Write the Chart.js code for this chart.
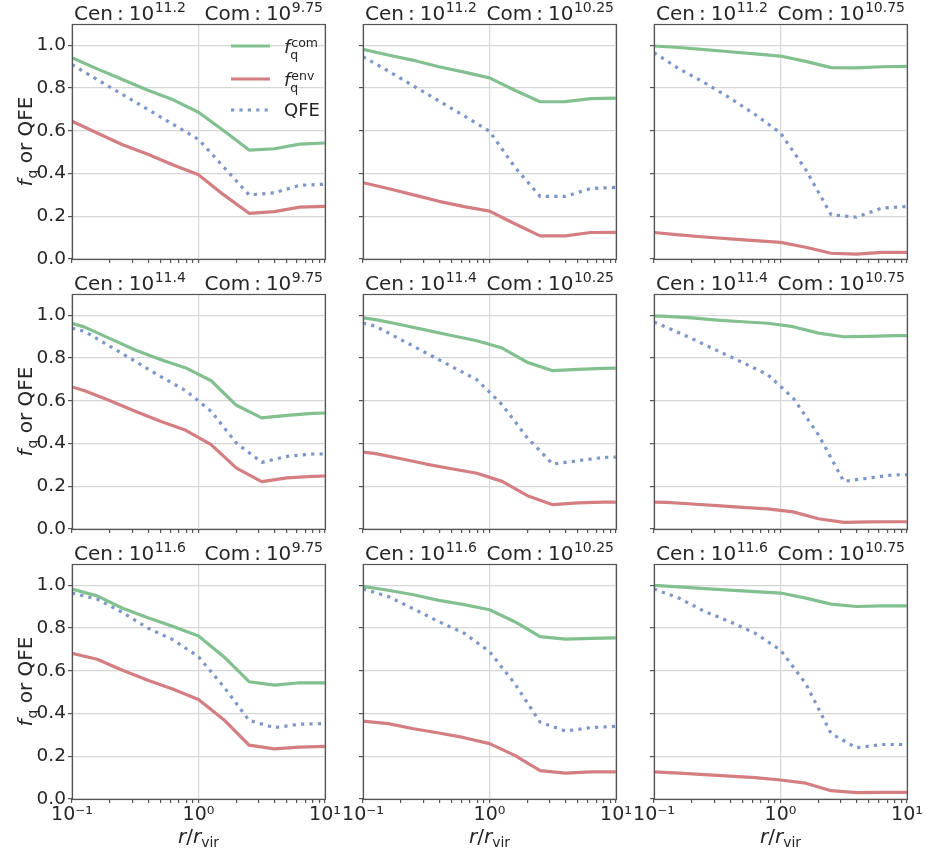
<!DOCTYPE html>
<html>
<head>
<meta charset="utf-8">
<script src="https://cdn.jsdelivr.net/npm/chart.js@4.4.1/dist/chart.umd.min.js"></script>
<style>
    html, body { margin: 0; padding: 0; background: #fff; width: 925px; height: 851px; overflow: hidden; position: relative; }
    canvas { position: absolute; }
</style>
</head>
<body>
<script>
(function () {
    "use strict";

    // radial bins (r / r_vir); row 2 uses a shifted set of bins
    const radiusA = [0.1, 0.158, 0.251, 0.398, 0.631, 1.0, 1.585, 2.512, 3.981, 6.31, 10];
    const radiusB = [0.1, 0.126, 0.2, 0.316, 0.5, 0.794, 1.259, 1.995, 3.162, 5.012, 7.943, 10];

    const cenLabels = ["11.2", "11.4", "11.6"];
    const comLabels = ["9.75", "10.25", "10.75"];

    // Cen 10^11.2, one list per companion mass
    const fqCom11_2 = [
        [0.942, 0.890, 0.840, 0.790, 0.745, 0.687, 0.600, 0.510, 0.516, 0.538, 0.543],
        [0.981, 0.955, 0.930, 0.900, 0.875, 0.848, 0.790, 0.736, 0.737, 0.751, 0.753],
        [0.997, 0.990, 0.980, 0.970, 0.960, 0.950, 0.925, 0.896, 0.895, 0.900, 0.902],
    ];
    const fqEnv11_2 = [
        [0.645, 0.590, 0.535, 0.490, 0.440, 0.394, 0.300, 0.214, 0.222, 0.243, 0.246],
        [0.357, 0.330, 0.300, 0.270, 0.245, 0.224, 0.165, 0.108, 0.108, 0.124, 0.125],
        [0.124, 0.113, 0.103, 0.094, 0.086, 0.078, 0.055, 0.027, 0.023, 0.031, 0.031],
    ];
    const qfe11_2 = [
        [0.910, 0.840, 0.770, 0.700, 0.630, 0.560, 0.430, 0.300, 0.310, 0.345, 0.350],
        [0.947, 0.880, 0.810, 0.740, 0.670, 0.598, 0.430, 0.293, 0.293, 0.330, 0.335],
        [0.966, 0.890, 0.825, 0.754, 0.676, 0.590, 0.418, 0.207, 0.196, 0.238, 0.246],
    ];

    // Cen 10^11.4
    const fqCom11_4 = [
        [0.963, 0.945, 0.891, 0.838, 0.793, 0.754, 0.694, 0.579, 0.520, 0.532, 0.541, 0.543],
        [0.988, 0.980, 0.956, 0.931, 0.906, 0.881, 0.847, 0.780, 0.741, 0.747, 0.752, 0.753],
        [0.998, 0.995, 0.988, 0.978, 0.970, 0.963, 0.947, 0.917, 0.900, 0.902, 0.905, 0.905],
    ];
    const fqEnv11_4 = [
        [0.665, 0.647, 0.600, 0.551, 0.504, 0.462, 0.395, 0.285, 0.222, 0.239, 0.246, 0.248],
        [0.360, 0.353, 0.329, 0.304, 0.282, 0.261, 0.223, 0.156, 0.114, 0.122, 0.126, 0.126],
        [0.126, 0.125, 0.117, 0.109, 0.101, 0.094, 0.080, 0.048, 0.031, 0.033, 0.034, 0.034],
    ];
    const qfe11_4 = [
        [0.940, 0.925, 0.855, 0.785, 0.714, 0.647, 0.551, 0.402, 0.312, 0.340, 0.351, 0.351],
        [0.964, 0.949, 0.886, 0.824, 0.761, 0.699, 0.582, 0.426, 0.304, 0.320, 0.335, 0.337],
        [0.969, 0.944, 0.891, 0.835, 0.780, 0.722, 0.613, 0.441, 0.223, 0.239, 0.254, 0.254],
    ];

    // Cen 10^11.6
    const fqCom11_6 = [
        [0.983, 0.951, 0.893, 0.848, 0.807, 0.763, 0.666, 0.549, 0.533, 0.544, 0.544],
        [0.995, 0.977, 0.956, 0.930, 0.910, 0.886, 0.830, 0.760, 0.748, 0.752, 0.754],
        [1.000, 0.993, 0.985, 0.978, 0.971, 0.964, 0.940, 0.912, 0.901, 0.904, 0.904],
    ];
    const fqEnv11_6 = [
        [0.682, 0.654, 0.603, 0.556, 0.514, 0.466, 0.371, 0.252, 0.235, 0.243, 0.246],
        [0.365, 0.353, 0.329, 0.309, 0.287, 0.259, 0.204, 0.133, 0.121, 0.127, 0.127],
        [0.127, 0.121, 0.114, 0.107, 0.100, 0.089, 0.074, 0.039, 0.030, 0.031, 0.031],
    ];
    const qfe11_6 = [
        [0.964, 0.936, 0.873, 0.800, 0.745, 0.666, 0.525, 0.368, 0.334, 0.350, 0.353],
        [0.983, 0.948, 0.890, 0.830, 0.776, 0.690, 0.540, 0.360, 0.318, 0.334, 0.340],
        [0.983, 0.940, 0.878, 0.830, 0.776, 0.697, 0.540, 0.306, 0.240, 0.255, 0.255],
    ];

    // axis ticks
    const xMajor = [0.1, 1, 10];
    const xMajorLabels = ["10\u207B\u00B9", "10\u2070", "10\u00B9"];
    const xMinor = [0.2, 0.3, 0.4, 0.5, 0.6, 0.7, 0.8, 0.9, 2, 3, 4, 5, 6, 7, 8, 9];
    const yTicks = [0, 0.2, 0.4, 0.6, 0.8, 1.0];

    const rows = [
        { cen: cenLabels[0], x: radiusA, com: fqCom11_2, env: fqEnv11_2, qfe: qfe11_2 },
        { cen: cenLabels[1], x: radiusB, com: fqCom11_4, env: fqEnv11_4, qfe: qfe11_4 },
        { cen: cenLabels[2], x: radiusA, com: fqCom11_6, env: fqEnv11_6, qfe: qfe11_6 },
    ];

    const FONT = "'DejaVu Sans'";
    const GREEN = "rgb(130,192,144)";
    const RED = "rgb(212,126,130)";
    const BLUE = "rgb(124,151,199)";
    const GRID = "#d6d6d6";
    const SPINE = "#555555";
    const TEXT = "#262626";

    const padL = 72, padT = 24, padR = 30, padB = 52;
    const plotW = 253, plotH = 235;

    // draw a run of text pieces (for sub / superscripts)
    function rich(ctx, x, y, parts, align) {
        let total = 0;
        parts.forEach((p) => {
            ctx.font = p.f;
            p.w = ctx.measureText(p.t).width;
            total += p.w + (p.gap || 0);
        });
        if (align === "right") x -= total;
        if (align === "center") x -= total / 2;
        ctx.textBaseline = "alphabetic";
        ctx.textAlign = "left";
        parts.forEach((p) => {
            ctx.font = p.f;
            ctx.fillText(p.t, x + (p.gap || 0), y + (p.dy || 0));
            x += p.w + (p.gap || 0);
        });
    }

    function toPoints(xs, ys) {
        return xs.map((v, i) => ({ x: v, y: ys[i] }));
    }

    function titleParts(name, exp) {
        const main = "20px " + FONT;
        return [
            { t: name, f: main },
            { t: ":", f: main, gap: 4 },
            { t: "10", f: main, gap: 5 },
            { t: exp, f: "14px " + FONT, dy: -8, gap: 0.5 },
        ];
    }

    const decor = {
        id: "decor",
        afterDatasetsDraw(chart, args, o) {
            const ctx = chart.ctx;
            const a = chart.chartArea;
            ctx.save();

            // spines
            ctx.strokeStyle = SPINE;
            ctx.lineWidth = 1.2;
            ctx.strokeRect(Math.round(a.left) + 0.5, Math.round(a.top) + 0.5,
                Math.round(a.right - a.left), Math.round(a.bottom - a.top));

            ctx.fillStyle = TEXT;

            // titles
            rich(ctx, a.left + 2, a.top - 4, titleParts("Cen", o.cen), "left");
            rich(ctx, a.right - 2, a.top - 4, titleParts("Com", o.com), "right");

            // legend in the first panel
            if (o.legend) {
                const lx = a.right - 94, tx = a.right - 41;
                const ys = [a.top + 22, a.top + 55, a.top + 86];
                ctx.lineWidth = 3.2;
                ctx.lineCap = "butt";
                ctx.strokeStyle = GREEN;
                ctx.beginPath(); ctx.moveTo(lx, ys[0]); ctx.lineTo(lx + 39, ys[0]); ctx.stroke();
                ctx.strokeStyle = RED;
                ctx.beginPath(); ctx.moveTo(lx, ys[1]); ctx.lineTo(lx + 39, ys[1]); ctx.stroke();
                ctx.strokeStyle = BLUE;
                ctx.setLineDash([3.2, 5.2]);
                ctx.beginPath(); ctx.moveTo(lx, ys[2]); ctx.lineTo(lx + 39, ys[2]); ctx.stroke();
                ctx.setLineDash([]);

                const it = "italic 18px " + FONT;
                const sm = "12.5px " + FONT;
                [["com", ys[0]], ["env", ys[1]]].forEach(([s, yy]) => {
                    ctx.font = it;
                    const fw = ctx.measureText("f").width;
                    ctx.fillText("f", tx, yy + 7);
                    ctx.font = sm;
                    ctx.fillText(s, tx + fw + 1, yy + 1);
                    ctx.fillText("q", tx + fw, yy + 13);
                });
                ctx.font = "18px " + FONT;
                ctx.fillText("QFE", tx, ys[2] + 6);
            }

            // y label
            if (o.ylabel) {
                ctx.save();
                ctx.translate(32, (a.top + a.bottom) / 2);
                ctx.rotate(-Math.PI / 2);
                rich(ctx, 0, 0, [
                    { t: "f", f: "italic 20px " + FONT },
                    { t: "q", f: "14px " + FONT, dy: 5, gap: 1 },
                    { t: " or QFE", f: "20px " + FONT },
                ], "center");
                ctx.restore();
            }

            // x label
            if (o.xlabel) {
                rich(ctx, (a.left + a.right) / 2, a.bottom + 44, [
                    { t: "r", f: "italic 20px " + FONT },
                    { t: "/", f: "20px " + FONT },
                    { t: "r", f: "italic 20px " + FONT },
                    { t: "vir", f: "14px " + FONT, dy: 4 },
                ], "center");
            }
            ctx.restore();
        },
    };

    rows.forEach((row, r) => {
        comLabels.forEach((com, c) => {
            const canvas = document.createElement("canvas");
            canvas.width = padL + plotW + padR;
            canvas.height = padT + plotH + padB;
            canvas.style.left = (72 + c * 291 - padL) + "px";
            canvas.style.top = (24 + r * 270 - padT) + "px";
            document.body.appendChild(canvas);

            new Chart(canvas, {
                type: "line",
                data: {
                    datasets: [
                        {
                            label: "fq com",
                            data: toPoints(row.x, row.com[c]),
                            borderColor: GREEN,
                            borderWidth: 3.2,
                        },
                        {
                            label: "fq env",
                            data: toPoints(row.x, row.env[c]),
                            borderColor: RED,
                            borderWidth: 3.2,
                        },
                        {
                            label: "QFE",
                            data: toPoints(row.x, row.qfe[c]),
                            borderColor: BLUE,
                            borderWidth: 3.2,
                            borderDash: [3.2, 5.2],
                        },
                    ],
                },
                options: {
                    responsive: false,
                    animation: false,
                    devicePixelRatio: 1,
                    elements: {
                        point: { radius: 0 },
                        line: { tension: 0, borderJoinStyle: "round", borderCapStyle: "butt" },
                    },
                    layout: { padding: { top: padT, right: padR, left: 0, bottom: 0 } },
                    plugins: {
                        legend: { display: false },
                        tooltip: { enabled: false },
                        decor: {
                            cen: row.cen,
                            com: com,
                            legend: r === 0 && c === 0,
                            ylabel: c === 0,
                            xlabel: r === 2,
                        },
                    },
                    scales: {
                        x: {
                            type: "logarithmic",
                            min: 0.1,
                            max: 10,
                            afterBuildTicks: (scale) => {
                                scale.ticks = xMajor.concat(xMinor).sort((p, q) => p - q)
                                    .map((v) => ({ value: v, major: xMajor.includes(v) }));
                            },
                            afterFit: (scale) => { scale.height = padB; },
                            border: { display: false },
                            grid: {
                                color: (ctx) => (ctx.tick && xMajor.includes(ctx.tick.value) ? GRID : "rgba(0,0,0,0)"),
                                lineWidth: 1.2,
                                tickColor: SPINE,
                                tickLength: 4,
                            },
                            ticks: {
                                autoSkip: false,
                                maxRotation: 0,
                                padding: 1,
                                color: TEXT,
                                font: { family: FONT, size: 19 },
                                callback: (v) => {
                                    const i = xMajor.indexOf(v);
                                    return r === 2 && i >= 0 ? xMajorLabels[i] : "";
                                },
                            },
                        },
                        y: {
                            min: 0,
                            max: 1.1,
                            afterBuildTicks: (scale) => {
                                scale.ticks = yTicks.map((v) => ({ value: v }));
                            },
                            afterFit: (scale) => { scale.width = padL; },
                            border: { display: false },
                            grid: {
                                color: GRID,
                                lineWidth: 1.2,
                                tickColor: SPINE,
                                tickLength: 4,
                            },
                            ticks: {
                                padding: 2,
                                color: TEXT,
                                font: { family: FONT, size: 18.5 },
                                callback: (v) => (c === 0 ? v.toFixed(1) : ""),
                            },
                        },
                    },
                },
                plugins: [decor],
            });
        });
    });
})();
</script>
</body>
</html>
